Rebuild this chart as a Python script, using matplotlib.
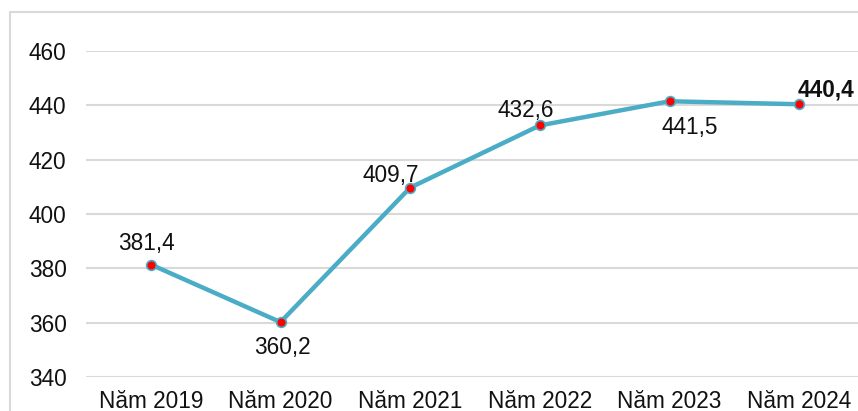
import matplotlib.pyplot as plt
from matplotlib.patches import Rectangle

plt.rcParams['font.family'] = ['Liberation Sans', 'DejaVu Sans']

years = ['Năm 2019', 'Năm 2020', 'Năm 2021', 'Năm 2022', 'Năm 2023', 'Năm 2024']
values = [381.4, 360.2, 409.7, 432.6, 441.5, 440.4]
labels = ['381,4', '360,2', '409,7', '432,6', '441,5', '440,4']
# label offsets in pixels (dx, dy of baseline from the point)
offsets = [(-4, 15), (2, -32), (-19, 6), (-14, 8), (20, -33), (27, 8)]

W, H = 858, 411
fig = plt.figure(figsize=(W / 100, H / 100), dpi=100)

# chart area border
fig.patches.append(Rectangle((10 / W, -0.1), 1.2, (H - 12) / H + 0.1,
                             transform=fig.transFigure, fill=False,
                             edgecolor='#d9d9d9', linewidth=1.5))

ax = fig.add_axes([86 / W, 34 / H, 778 / W, 326 / H])
x = range(len(years))
ax.plot(x, values, color='#4bacc6', linewidth=3.2, zorder=3,
        marker='o', markersize=7, markerfacecolor='#ff0000',
        markeredgecolor='#4bacc6', markeredgewidth=1.2)

fs = 16.3
for i, (v, t, (dx, dy)) in enumerate(zip(values, labels, offsets)):
    ax.annotate(t, (i, v), xytext=(dx, dy), textcoords='offset pixels',
                ha='center', va='baseline', fontsize=fs, color='#111111',
                fontweight='bold' if i == len(values) - 1 else 'normal')

ax.set_xlim(-0.5, 5.5)
ax.set_ylim(340, 460)
ax.set_yticks(range(340, 461, 20))
ax.set_xticks(list(x))
ax.set_xticklabels(years)
ax.grid(axis='y', color='#d9d9d9', linewidth=1.5)
ax.set_axisbelow(True)
for s in ax.spines.values():
    s.set_visible(False)
ax.tick_params(axis='y', length=0, pad=14, labelsize=fs, labelcolor='#111111')
ax.tick_params(axis='x', length=0, pad=9, labelsize=fs, labelcolor='#111111')

plt.savefig('out.png', dpi=100)
